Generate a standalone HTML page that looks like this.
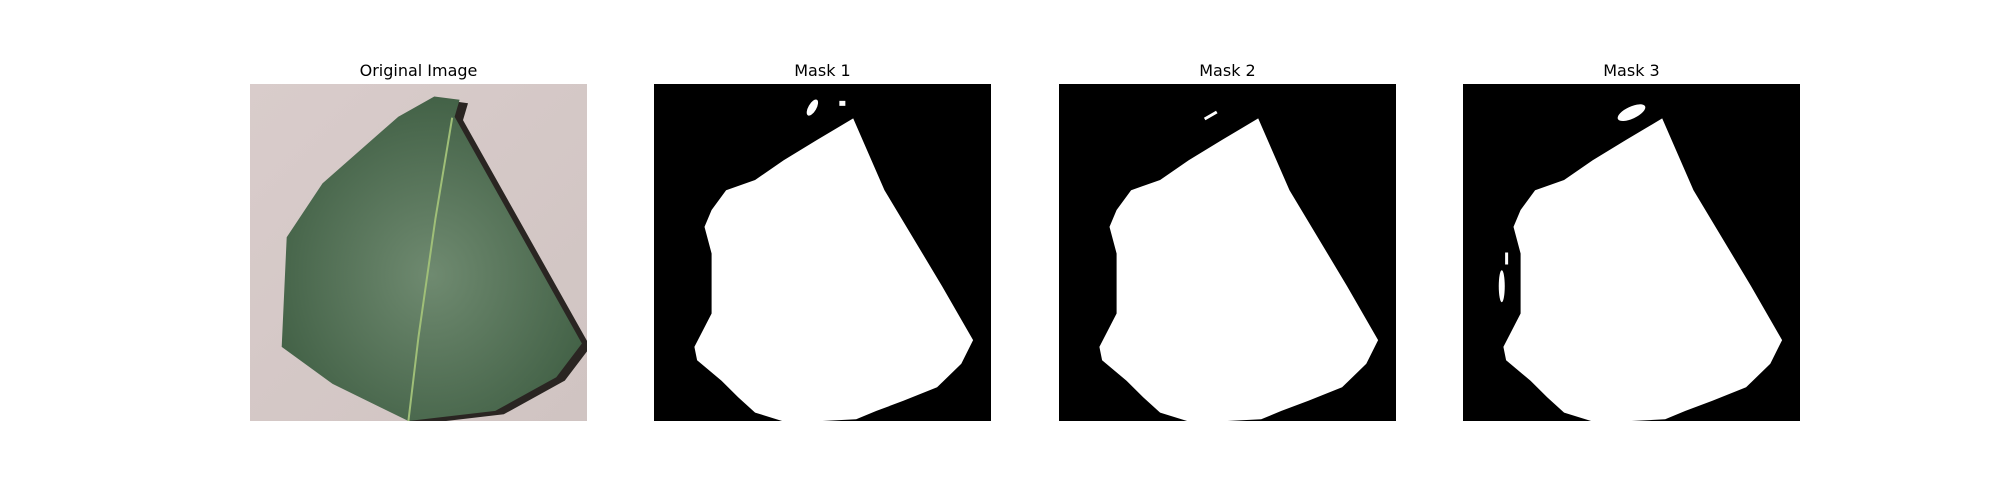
<!DOCTYPE html>
<html><head><meta charset="utf-8"><style>
body{margin:0;background:#fff;width:2000px;height:500px;overflow:hidden;font-family:"DejaVu Sans","Liberation Sans",sans-serif}
</style></head><body>
<svg width="2000" height="500">
<defs>
<linearGradient id="bg" x1="0" y1="0" x2="1" y2="1"><stop offset="0" stop-color="#d9cccb"/><stop offset="1" stop-color="#d0c4c2"/></linearGradient>
<radialGradient id="lf" cx="0.5" cy="0.55" r="0.6"><stop offset="0" stop-color="#6f8a70"/><stop offset="1" stop-color="#3f5e43"/></radialGradient>
<clipPath id="c0"><rect x="250" y="84" width="337" height="337"/></clipPath>
</defs>
<g id="panels"></g>
</svg>
<script>
const titles=["Original Image","Mask 1","Mask 2","Mask 3"];
const panelX=[250,654,1059,1463];
const PY=84, PS=337;
const maskPts=[[0.591,0.102],[0.684,0.315],[0.855,0.6],[0.947,0.76],[0.912,0.83],[0.84,0.9],[0.74,0.94],[0.66,0.97],[0.6,0.995],[0.5,1.0],[0.38,1.0],[0.3,0.975],[0.25,0.93],[0.2,0.88],[0.128,0.82],[0.12,0.78],[0.171,0.681],[0.171,0.503],[0.15,0.424],[0.171,0.374],[0.214,0.315],[0.3,0.285],[0.385,0.226],[0.484,0.166]];
const leafPts=[[0.547,0.037],[0.622,0.047],[0.607,0.097],[0.985,0.77],[0.909,0.87],[0.728,0.97],[0.47,1],[0.245,0.89],[0.094,0.78],[0.109,0.455],[0.215,0.295],[0.44,0.097]];
const NS="http://www.w3.org/2000/svg";
const g=document.getElementById('panels');
function mk(t,a){const e=document.createElementNS(NS,t);for(const k in a)e.setAttribute(k,a[k]);return e;}
function pts(arr,x0){return arr.map(p=>(x0+p[0]*PS).toFixed(1)+','+(PY+p[1]*PS).toFixed(1)).join(' ');}
titles.forEach((t,i)=>{
  const x0=panelX[i];
  const grp=mk('g',{});
  
  
  const tt=mk('text',{x:x0+PS/2,y:76,'text-anchor':'middle','font-size':'16','fill':'#000'});
  tt.textContent=t;
  
  
  grp.appendChild(tt);
  if(i===0){
    const cg=mk('g',{'clip-path':'url(#c0)'});
    cg.appendChild(mk('rect',{x:x0,y:PY,width:PS,height:PS,fill:'url(#bg)'}));
    cg.appendChild(mk('polygon',{points:pts(leafPts.map(p=>[p[0]+0.025,p[1]+0.01]),x0),fill:'#2a2522'}));
    const lf=mk('polygon',{points:pts(leafPts,x0),fill:'url(#lf)'});
    
    
    cg.appendChild(lf);
    cg.appendChild(mk('polyline',{points:pts([[0.6,0.1],[0.55,0.4],[0.5,0.75],[0.47,1]],x0),fill:'none',stroke:'#9fbf78','stroke-width':2}));
    grp.appendChild(cg);
  } else {
    grp.appendChild(mk('rect',{x:x0,y:PY,width:PS,height:PS,fill:'#000'}));
    const m=mk('polygon',{points:pts(maskPts,x0),fill:'#fff'});
    
    
    grp.appendChild(m);
    if(i===1){grp.appendChild(mk('ellipse',{cx:x0+0.47*PS,cy:PY+0.07*PS,rx:4,ry:9,fill:'#fff',transform:`rotate(30 ${x0+0.47*PS} ${PY+0.07*PS})`}));grp.appendChild(mk('rect',{x:x0+0.55*PS,y:PY+0.05*PS,width:6,height:5,fill:'#fff'}));}
    if(i===2){grp.appendChild(mk('rect',{x:x0+0.43*PS,y:PY+0.1*PS,width:14,height:3,fill:'#fff',transform:`rotate(-30 ${x0+0.43*PS} ${PY+0.1*PS})`}));}
    if(i===3){grp.appendChild(mk('ellipse',{cx:x0+0.5*PS,cy:PY+0.085*PS,rx:15,ry:6,fill:'#fff',transform:`rotate(-25 ${x0+0.5*PS} ${PY+0.085*PS})`}));grp.appendChild(mk('ellipse',{cx:x0+0.115*PS,cy:PY+0.6*PS,rx:3,ry:16,fill:'#fff'}));grp.appendChild(mk('rect',{x:x0+0.125*PS,y:PY+0.5*PS,width:3,height:12,fill:'#fff'}));}
  }
  g.appendChild(grp);
});
</script>
</body></html>
